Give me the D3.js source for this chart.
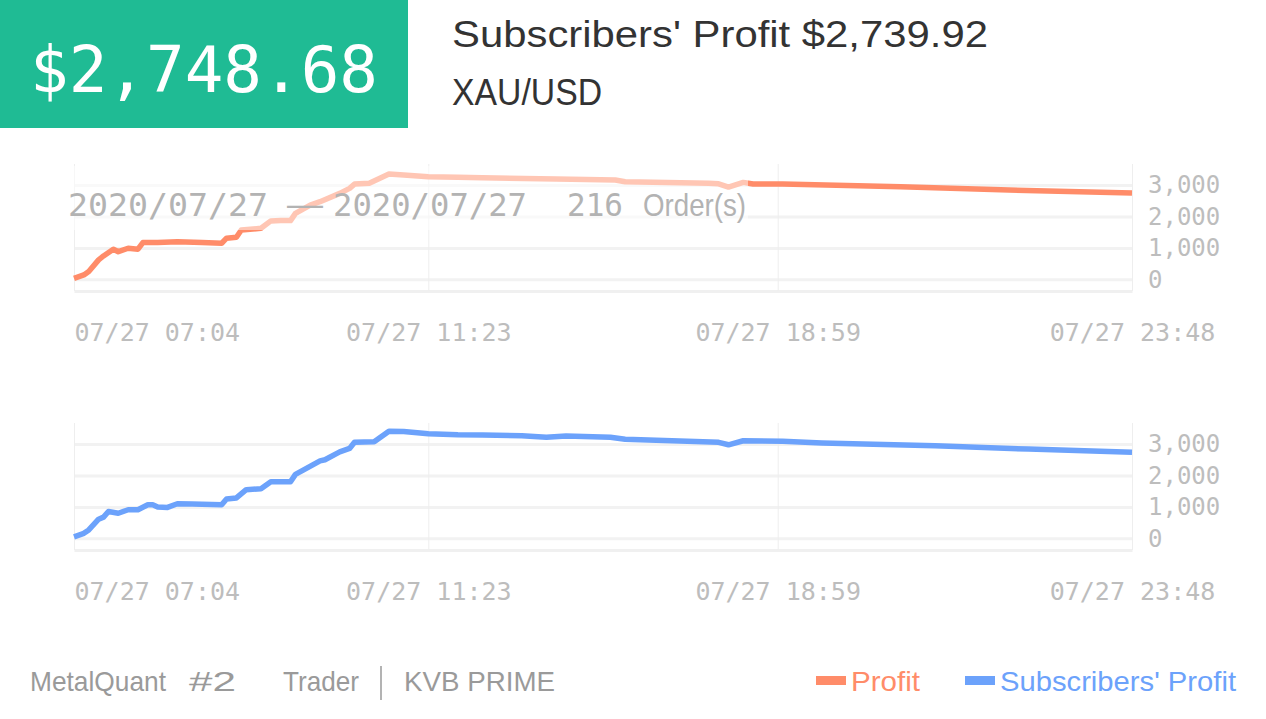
<!DOCTYPE html>
<html>
<head>
<meta charset="utf-8">
<script src="https://cdn.jsdelivr.net/npm/d3@7"></script>
<style>
  body { margin: 0; background: #fff; }
  svg { display: block; }
</style>
</head>
<body>
<script>
var W = 1266, H = 719;

// data: order index -> cumulative profit
var profitIdx = [0, 2, 3, 5, 6, 8, 9, 11, 13, 14, 17, 21, 26, 30, 31, 33, 34, 38, 40, 42, 44, 45, 48, 50, 54, 56, 57, 60, 64, 67, 72, 78, 83, 98, 110, 112, 129, 131, 133, 136, 138, 144, 168, 190, 215];
var profit = [30, 140, 250, 620, 745, 960, 880, 990, 960, 1170, 1170, 1200, 1170, 1150, 1310, 1340, 1570, 1625, 1860, 1870, 1870, 2100, 2365, 2470, 2735, 2895, 3030, 3055, 3350, 3320, 3265, 3245, 3230, 3190, 3160, 3105, 3054, 3040, 2937, 3085, 3032, 3032, 2946, 2841, 2748.68];

var subsIdx = [0, 2, 3, 5, 6, 7, 9, 11, 13, 15, 16, 17, 19, 21, 24, 30, 31, 33, 35, 38, 40, 44, 45, 50, 51, 54, 56, 57, 61, 64, 67, 72, 78, 83, 91, 96, 100, 109, 112, 131, 133, 136, 144, 152, 175, 194, 215];
var subsProfit = [50, 160, 270, 610, 675, 855, 800, 910, 910, 1070, 1070, 1000, 985, 1100, 1095, 1070, 1255, 1285, 1550, 1580, 1800, 1800, 2035, 2465, 2500, 2750, 2860, 3055, 3075, 3410, 3400, 3325, 3295, 3289, 3267, 3215, 3257, 3215, 3150, 3055, 2977, 3106, 3087, 3032, 2945, 2839, 2739.92];

var orderCount = 216;
var xTickIdx = [0, 72, 143, 215];
var xTickLabels = ["07/27 07:04", "07/27 11:23", "07/27 18:59", "07/27 23:48"];
var yTicks = [0, 1000, 2000, 3000];

var green = "#1fbb94";
var orange = "#ff8c69";
var blue = "#6ca2fb";
var mono = "'DejaVu Sans Mono', 'Liberation Mono', monospace";
var narrow = "'Liberation Sans', 'DejaVu Sans', sans-serif";

var svg = d3.select("body").append("svg").attr("width", W).attr("height", H);

// header block
svg.append("rect").attr("x", 0).attr("y", 0).attr("width", 408).attr("height", 128).attr("fill", green);
svg.append("text").attr("x", 30).attr("y", 92)
    .attr("font-family", mono).attr("font-size", 64).attr("fill", "#fff")
    .attr("textLength", 348).attr("lengthAdjust", "spacingAndGlyphs")
    .text("$2,748.68");
svg.append("text").attr("x", 452).attr("y", 47)
    .attr("font-family", narrow).attr("font-size", 36).attr("fill", "#333")
    .attr("textLength", 536).attr("lengthAdjust", "spacingAndGlyphs")
    .text("Subscribers' Profit $2,739.92");
svg.append("text").attr("x", 452).attr("y", 105)
    .attr("font-family", narrow).attr("font-size", 36).attr("fill", "#333")
    .attr("textLength", 150).attr("lengthAdjust", "spacingAndGlyphs")
    .text("XAU/USD");

var x = d3.scaleLinear().domain([0, orderCount - 1]).range([74, 1132]);

function drawChart(top, idx, vals, color) {
    var bottom = top + 127;
    var y = d3.scaleLinear().domain([-370, 3670]).range([bottom, top]);
    var g = svg.append("g");

    // horizontal grid + y labels
    var ya = g.append("g").attr("transform", "translate(1132,0)")
        .call(d3.axisRight(y).tickValues(yTicks).tickSize(-1058).tickPadding(16).tickFormat(d3.format(",")));
    ya.select(".domain").remove();
    ya.selectAll(".tick line").attr("stroke", "#f2f2f2").attr("stroke-width", 3).attr("x2", -1058);
    ya.selectAll(".tick text").attr("font-family", mono).attr("font-size", 24).attr("fill", "#bdbdbd");

    // vertical grid + x labels
    var xa = g.append("g").attr("transform", "translate(0," + bottom + ")")
        .call(d3.axisBottom(x).tickValues(xTickIdx).tickSizeInner(-127).tickSizeOuter(0).tickPadding(32)
            .tickFormat(function(d, i) { return xTickLabels[i]; }));
    xa.select(".domain").attr("stroke", "#f0f0f0").attr("stroke-width", 3);
    xa.selectAll(".tick line").attr("stroke", "#eeeeee").attr("stroke-width", 1);
    xa.selectAll(".tick text").attr("font-family", mono).attr("font-size", 25).attr("fill", "#bdbdbd");
    xa.selectAll(".tick text").filter(function(d, i) { return i === 0; }).attr("text-anchor", "start");

    var line = d3.line()
        .x(function(d) { return x(d[0]); })
        .y(function(d) { return y(d[1]); });
    g.append("path")
        .datum(d3.zip(idx, vals))
        .attr("d", line)
        .attr("fill", "none")
        .attr("stroke", color)
        .attr("stroke-width", 5.5)
        .attr("stroke-linejoin", "round");
    return g;
}

drawChart(164, profitIdx, profit, orange);
drawChart(423, subsIdx, subsProfit, blue);

// period caption on the top chart
svg.append("rect").attr("x", 64).attr("y", 166).attr("width", 684).attr("height", 64)
    .attr("fill", "#fff").attr("opacity", 0.5);
var cap = svg.append("g").attr("font-family", mono).attr("font-size", 32).attr("fill", "#b3b3b3");
cap.append("text").attr("x", 68).attr("y", 216).attr("textLength", 200).attr("lengthAdjust", "spacingAndGlyphs").text("2020/07/27");
cap.append("text").attr("x", 287).attr("y", 216).attr("textLength", 36).attr("lengthAdjust", "spacingAndGlyphs").text("\u2014");
cap.append("text").attr("x", 333).attr("y", 216).attr("textLength", 194).attr("lengthAdjust", "spacingAndGlyphs").text("2020/07/27");
cap.append("text").attr("x", 567).attr("y", 216).attr("textLength", 56).attr("lengthAdjust", "spacingAndGlyphs").text("216");
cap.append("text").attr("x", 643).attr("y", 216).attr("textLength", 103).attr("lengthAdjust", "spacingAndGlyphs")
    .attr("font-family", narrow).text("Order(s)");

// footer
var foot = svg.append("g").attr("font-family", narrow).attr("font-size", 28).attr("fill", "#9a9a9a");
foot.append("text").attr("x", 30).attr("y", 691).attr("textLength", 136).attr("lengthAdjust", "spacingAndGlyphs").text("MetalQuant");
foot.append("text").attr("x", 189).attr("y", 691).attr("textLength", 47).attr("lengthAdjust", "spacingAndGlyphs").text("#2");
foot.append("text").attr("x", 283).attr("y", 691).attr("textLength", 76).attr("lengthAdjust", "spacingAndGlyphs").text("Trader");
foot.append("line").attr("x1", 381).attr("x2", 381).attr("y1", 666).attr("y2", 700).attr("stroke", "#9a9a9a").attr("stroke-width", 1.5);
foot.append("text").attr("x", 404).attr("y", 691).attr("textLength", 151).attr("lengthAdjust", "spacingAndGlyphs").text("KVB PRIME");

// legend
var legendItems = [
    { name: "Profit", color: orange, x: 816, w: 69 },
    { name: "Subscribers' Profit", color: blue, x: 965, w: 236 }
];
var lg = svg.append("g").selectAll("g").data(legendItems).enter().append("g");
lg.append("rect").attr("x", function(d) { return d.x; }).attr("y", 676)
    .attr("width", 30).attr("height", 9).attr("fill", function(d) { return d.color; });
lg.append("text").attr("x", function(d) { return d.x + 35; }).attr("y", 691)
    .attr("font-family", narrow).attr("font-size", 28)
    .attr("fill", function(d) { return d.color; })
    .attr("textLength", function(d) { return d.w; }).attr("lengthAdjust", "spacingAndGlyphs")
    .text(function(d) { return d.name; });
</script>
</body>
</html>
